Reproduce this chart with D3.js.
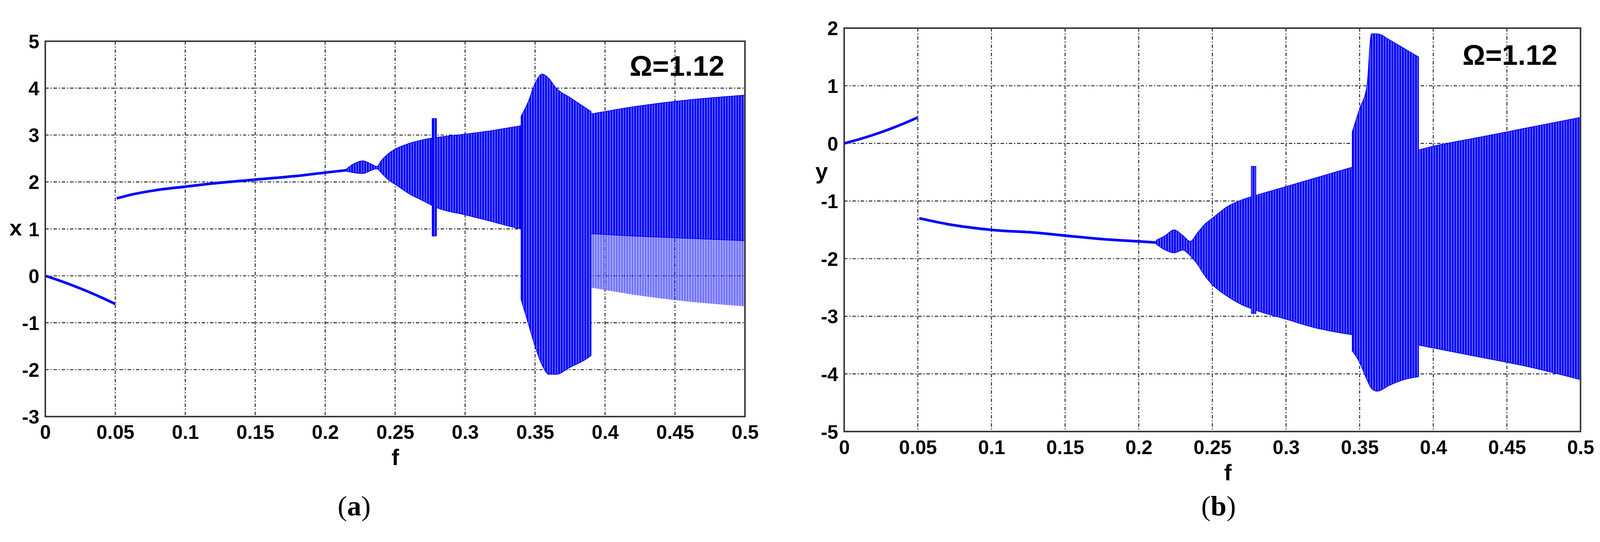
<!DOCTYPE html>
<html><head><meta charset="utf-8">
<script src="https://cdn.jsdelivr.net/npm/d3@7/dist/d3.min.js"></script>
<style>html,body{margin:0;padding:0;overflow:hidden;background:#fff;width:100%;height:100%}svg{display:block;width:100vw;height:100vh}</style></head>
<body><svg id="c" viewBox="0 0 4274 1388" preserveAspectRatio="xMidYMid meet"></svg>
<script>
// ---------- data ----------
const fTicks = [0,0.05,0.1,0.15,0.2,0.25,0.3,0.35,0.4,0.45,0.5];
const xTicks = [-3,-2,-1,0,1,2,3,4,5];
const yTicks = [-5,-4,-3,-2,-1,0,1,2];
// panel (a): x
const xBranchLow  = [[0,0],[0.01,-0.1],[0.02,-0.21],[0.03,-0.33],[0.04,-0.46],[0.05,-0.6]];
const xBranchHigh = [[0.051,1.65],[0.06,1.72],[0.08,1.83],[0.1,1.9],[0.12,1.97],[0.15,2.05],[0.18,2.13],[0.2,2.2],[0.215,2.25]];
const xBand  = [[0.215,2.23,2.27],[0.22,2.2,2.38],[0.227,2.18,2.45],[0.233,2.25,2.38],[0.237,2.28,2.33],[0.24,2.2,2.45],[0.245,2.05,2.6],[0.25,1.95,2.7],[0.26,1.75,2.82],[0.27,1.6,2.9],[0.28,1.45,2.95],[0.3,1.3,3.02],[0.32,1.15,3.1],[0.34,1.0,3.2],[0.36,0.95,3.3],[0.39,0.9,3.45],[0.42,0.85,3.6],[0.46,0.8,3.75],[0.5,0.75,3.85]];
const xSpike = [[0.2765,0.85,3.35],[0.2795,0.85,3.35]];
const xChaos = [[0.34,-0.5,3.4],[0.345,-1.0,3.7],[0.35,-1.5,4.1],[0.355,-1.9,4.3],[0.36,-2.1,4.2],[0.365,-2.1,4.0],[0.375,-1.95,3.8],[0.385,-1.8,3.6],[0.39,-1.7,3.5]];
const xSparse = [[0.39,-0.25,0.9],[0.42,-0.4,0.85],[0.46,-0.55,0.8],[0.5,-0.65,0.75]];
// panel (b): y
const yBranchLow  = [[0,0],[0.01,0.07],[0.02,0.15],[0.03,0.24],[0.04,0.34],[0.05,0.45]];
const yBranchHigh = [[0.051,-1.3],[0.07,-1.4],[0.1,-1.5],[0.13,-1.55],[0.15,-1.6],[0.18,-1.67],[0.2,-1.7],[0.212,-1.72]];
const yBand  = [[0.212,-1.75,-1.68],[0.218,-1.85,-1.6],[0.224,-1.9,-1.5],[0.23,-1.85,-1.6],[0.235,-1.95,-1.7],[0.24,-2.1,-1.55],[0.245,-2.3,-1.4],[0.25,-2.45,-1.3],[0.26,-2.65,-1.1],[0.27,-2.8,-0.98],[0.28,-2.9,-0.9],[0.3,-3.05,-0.75],[0.32,-3.2,-0.6],[0.34,-3.3,-0.45],[0.37,-3.4,-0.25],[0.4,-3.55,-0.05],[0.43,-3.7,0.1],[0.46,-3.85,0.25],[0.5,-4.1,0.45]];
const ySpike = [[0.2765,-2.95,-0.4],[0.2795,-2.95,-0.4]];
const yChaos = [[0.345,-3.6,0.2],[0.35,-3.8,0.6],[0.355,-4.1,1.0],[0.358,-4.25,1.9],[0.362,-4.3,1.9],[0.37,-4.2,1.8],[0.38,-4.1,1.65],[0.39,-4.05,1.5]];
const omegaLabel = "Ω=1.12";

// ---------- drawing ----------
const svg = d3.select("#c");
const defs = svg.append("defs");
function stripe(id, op){
  const p = defs.append("pattern").attr("id",id).attr("patternUnits","userSpaceOnUse").attr("width",7).attr("height",7);
  p.append("rect").attr("width",7).attr("height",7).attr("fill","#0000ff").attr("opacity",op);
  p.append("rect").attr("x",5).attr("width",2).attr("height",7).attr("fill","#fff").attr("opacity",0.55);
}
stripe("dense",1); stripe("sparse",0.55);

function panel(cfg){
  const g = svg.append("g");
  const xs = d3.scaleLinear().domain([0,0.5]).range([cfg.l,cfg.r]);
  const ys = d3.scaleLinear().domain(cfg.dom).range([cfg.b,cfg.t]);
  const font = "'Liberation Sans', Arial, sans-serif";
  g.selectAll(".gx").data(fTicks.slice(1,-1)).join("line")
    .attr("x1",d=>xs(d)).attr("x2",d=>xs(d)).attr("y1",cfg.t).attr("y2",cfg.b)
    .attr("stroke","#222").attr("stroke-width",2.5).attr("stroke-dasharray","9,5,3,5");
  g.selectAll(".gy").data(cfg.ticks.slice(1,-1)).join("line")
    .attr("y1",d=>ys(d)).attr("y2",d=>ys(d)).attr("x1",cfg.l).attr("x2",cfg.r)
    .attr("stroke","#222").attr("stroke-width",2.5).attr("stroke-dasharray","9,5,3,5");
  const area = d3.area().x(d=>xs(d[0])).y0(d=>ys(d[1])).y1(d=>ys(d[2])).curve(d3.curveMonotoneX);
  const line = d3.line().x(d=>xs(d[0])).y(d=>ys(d[1])).curve(d3.curveMonotoneX);
  cfg.sparse.forEach(a=>g.append("path").attr("d",area(a)).attr("fill","url(#sparse)"));
  cfg.dense.forEach(a=>g.append("path").attr("d",area(a)).attr("fill","url(#dense)").attr("stroke","#0000ff").attr("stroke-width",2));
  cfg.lines.forEach(a=>g.append("path").attr("d",line(a)).attr("fill","none").attr("stroke","#0000ff").attr("stroke-width",7));
  g.append("rect").attr("x",cfg.l).attr("y",cfg.t).attr("width",cfg.r-cfg.l).attr("height",cfg.b-cfg.t)
    .attr("fill","none").attr("stroke","#333").attr("stroke-width",4);
  const ax = g.append("g").attr("transform",`translate(0,${cfg.b})`).call(d3.axisBottom(xs).tickValues(fTicks).tickSize(0).tickFormat(d=>String(d)));
  ax.select(".domain").remove();
  ax.selectAll("text").attr("dy",0).attr("y",60).attr("font-family",font).attr("font-weight","bold").attr("font-size",52).attr("fill","#000");
  const ay = g.append("g").attr("transform",`translate(${cfg.l},0)`).call(d3.axisLeft(ys).tickValues(cfg.ticks).tickSize(0).tickFormat(d=>String(d)));
  ay.select(".domain").remove();
  ay.selectAll("text").attr("x",-16).attr("dy","0.36em").attr("font-family",font).attr("font-weight","bold").attr("font-size",52).attr("fill","#000");
  g.append("text").attr("x",cfg.fx).attr("y",cfg.b+130).attr("text-anchor","middle").attr("font-family",font).attr("font-weight","bold").attr("font-size",60).text("f");
  g.append("text").attr("x",cfg.vx).attr("y",ys(cfg.vy)).attr("dy","0.3em").attr("text-anchor","middle").attr("font-family",font).attr("font-weight","bold").attr("font-size",60).text(cfg.vname);
  g.append("text").attr("x",cfg.ox).attr("y",cfg.oy).attr("text-anchor","end").attr("font-family",font).attr("font-weight","bold").attr("font-size",76).text(omegaLabel);
  const lab = g.append("text").attr("x",cfg.px).attr("y",1347).attr("text-anchor","middle").attr("font-family","'Liberation Serif', 'Times New Roman', serif").attr("font-size",76);
  lab.append("tspan").text("(");
  lab.append("tspan").attr("font-weight","bold").text(cfg.pl);
  lab.append("tspan").text(")");
}
panel({l:121,r:1990,t:80,b:1083,dom:[-3,5],ticks:xTicks,
  dense:[xBand,xSpike,xChaos],sparse:[xSparse],lines:[xBranchLow,xBranchHigh],
  fx:1056,vx:42,vy:1,vname:"x",ox:1935,oy:172,px:946,pl:"a"});
panel({l:2255,r:4222,t:45,b:1123,dom:[-5,2],ticks:yTicks,
  dense:[yBand,ySpike,yChaos],sparse:[],lines:[yBranchLow,yBranchHigh],
  fx:3280,vx:2195,vy:-0.5,vname:"y",ox:4160,oy:143,px:3255,pl:"b"});
</script></body></html>
